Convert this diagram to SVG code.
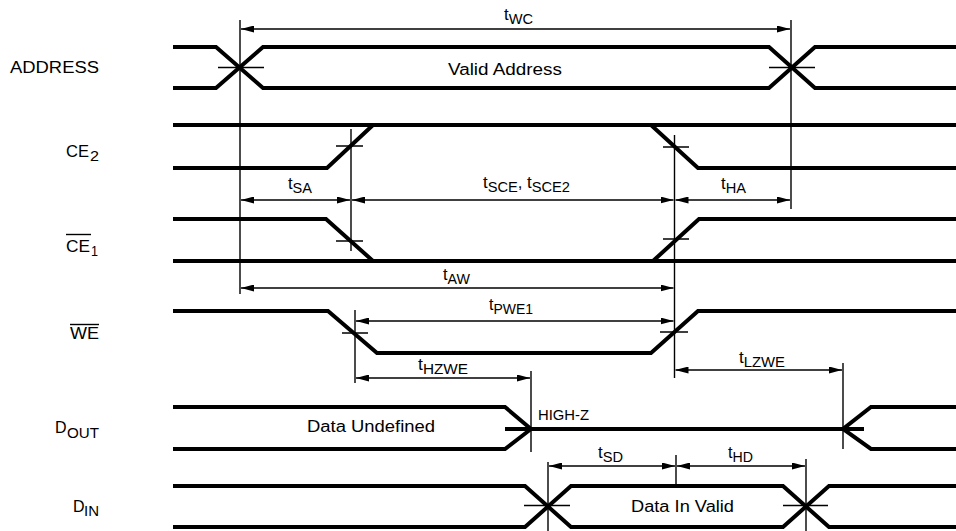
<svg xmlns="http://www.w3.org/2000/svg" width="956" height="531" viewBox="0 0 956 531">
<style>
.sig{fill:none;stroke:#000;stroke-width:4;stroke-linejoin:miter;stroke-linecap:butt}
.thin{fill:none;stroke:#000;stroke-width:1.4}
.dim{fill:none;stroke:#000;stroke-width:1.4;marker-start:url(#ah);marker-end:url(#ah)}
text{font-family:"Liberation Sans",Arial,sans-serif;fill:#000}
.lbl{font-size:16px}
.tl{font-size:16px}
.sub{font-size:14px}
.ls{font-size:14px}
</style>
<defs>
<marker id="ah" viewBox="0 0 13 7" refX="13" refY="3.5" markerWidth="13" markerHeight="7" markerUnits="userSpaceOnUse" orient="auto-start-reverse"><path d="M0,0 L13,3.5 L0,7 z" fill="#000"/></marker>
</defs>
<rect width="956" height="531" fill="#fff"/>

<g id="address">
<path class="sig" d="M173,47 H216 L263,88 H769 L815,47 H956"/>
<path class="sig" d="M173,88 H216 L263,47 H769 L815,88 H956"/>
<path class="thin" d="M218,67.5 H264 M769,67.5 H815"/>
<text class="lbl" x="10" y="73" textLength="89" lengthAdjust="spacingAndGlyphs">ADDRESS</text>
<text class="lbl" x="448" y="75" textLength="114" lengthAdjust="spacingAndGlyphs">Valid Address</text>
</g>

<g id="ce2">
<path class="sig" d="M173,125 H956"/>
<path class="sig" d="M173,168 H327 L373,125"/>
<path class="sig" d="M651,125 L698,168 H956"/>
<path class="thin" d="M336,146 H363 M663,147 H689"/>
<text class="lbl" x="66" y="157" textLength="23" lengthAdjust="spacingAndGlyphs">CE</text>
<text class="ls" x="90" y="161" textLength="9" lengthAdjust="spacingAndGlyphs">2</text>
</g>

<g id="ce1">
<path class="sig" d="M173,219 H326 L373,261"/>
<path class="sig" d="M173,261 H956"/>
<path class="sig" d="M653,261 L699,219 H956"/>
<path class="thin" d="M336,241 H363 M663,239 H689"/>
<text class="lbl" x="66" y="252" textLength="24" lengthAdjust="spacingAndGlyphs">CE</text>
<text class="ls" x="91" y="256" textLength="7" lengthAdjust="spacingAndGlyphs">1</text>
<path class="thin" d="M66,234.5 H91"/>
</g>

<g id="we">
<path class="sig" d="M173,311 H328 L377,353 H651 L698,311 H956"/>
<path class="thin" d="M342,333 H368 M660,332 H688"/>
<text class="lbl" x="70" y="339" textLength="29" lengthAdjust="spacingAndGlyphs">WE</text>
<path class="thin" d="M70,324.5 H99"/>
</g>

<g id="dout">
<path class="sig" d="M173,407 H505 L531,429 M173,449 H505 L531,429"/>
<path class="sig" d="M505,429 H864"/>
<path class="sig" d="M956,407 H871 L843,429 L871,449 H956"/>
<text class="lbl" x="55" y="433">D</text>
<text class="ls" x="67" y="438" textLength="32" lengthAdjust="spacingAndGlyphs">OUT</text>
<text class="lbl" x="307" y="432" textLength="128" lengthAdjust="spacingAndGlyphs">Data Undefined</text>
<text style="font-size:14.5px" x="538" y="420" textLength="51" lengthAdjust="spacingAndGlyphs">HIGH-Z</text>
</g>

<g id="din">
<path class="sig" d="M173,486 H525 L571,527 H783 L829,486 H956"/>
<path class="sig" d="M173,527 H525 L571,486 H783 L829,527 H956"/>
<path class="thin" d="M524,505.5 H570 M783,505.5 H828"/>
<text class="lbl" x="73" y="512">D</text>
<text class="ls" x="84" y="516" textLength="15" lengthAdjust="spacingAndGlyphs">IN</text>
<text class="lbl" x="631" y="512" textLength="103" lengthAdjust="spacingAndGlyphs">Data In Valid</text>
</g>

<g id="connectors">
<path class="thin" d="M240,20 V294 M791,20 V209 M351,129 V251 M674.5,135 V378 M355,310 V383 M531,371 V452 M843,363 V449 M548,462 V531 M806,459 V531 M676,455 V486"/>
<path class="dim" d="M241,29 H790"/>
<path class="dim" d="M241,200 H350"/>
<path class="dim" d="M352,200 H673.5"/>
<path class="dim" d="M675.5,200 H790"/>
<path class="dim" d="M241,288 H673.5"/>
<path class="dim" d="M356,321 H673.5"/>
<path class="dim" d="M356,378 H530"/>
<path class="dim" d="M675.5,370 H842"/>
<path class="dim" d="M549,466 H675"/>
<path class="dim" d="M677,466 H805"/>
<text class="tl" x="504" y="20" textLength="29" lengthAdjust="spacingAndGlyphs">t<tspan class="sub" dy="3.5">WC</tspan></text>
<text class="tl" x="288" y="189" textLength="24" lengthAdjust="spacingAndGlyphs">t<tspan class="sub" dy="4">SA</tspan></text>
<text class="tl" x="483" y="188" textLength="87" lengthAdjust="spacingAndGlyphs">t<tspan class="sub" dy="3.5">SCE</tspan><tspan dy="-3.5">, t</tspan><tspan class="sub" dy="3.5">SCE2</tspan></text>
<text class="tl" x="721" y="189" textLength="25" lengthAdjust="spacingAndGlyphs">t<tspan class="sub" dy="4">HA</tspan></text>
<text class="tl" x="443" y="280" textLength="27" lengthAdjust="spacingAndGlyphs">t<tspan class="sub" dy="3.5">AW</tspan></text>
<text class="tl" x="489" y="310" textLength="44" lengthAdjust="spacingAndGlyphs">t<tspan class="sub" dy="4">PWE1</tspan></text>
<text class="tl" x="418" y="370" textLength="50" lengthAdjust="spacingAndGlyphs">t<tspan class="sub" dy="4">HZWE</tspan></text>
<text class="tl" x="739" y="363" textLength="46" lengthAdjust="spacingAndGlyphs">t<tspan class="sub" dy="3.5">LZWE</tspan></text>
<text class="tl" x="598" y="458" textLength="25" lengthAdjust="spacingAndGlyphs">t<tspan class="sub" dy="3.5">SD</tspan></text>
<text class="tl" x="728" y="458" textLength="25" lengthAdjust="spacingAndGlyphs">t<tspan class="sub" dy="3.5">HD</tspan></text>
</g>
</svg>
